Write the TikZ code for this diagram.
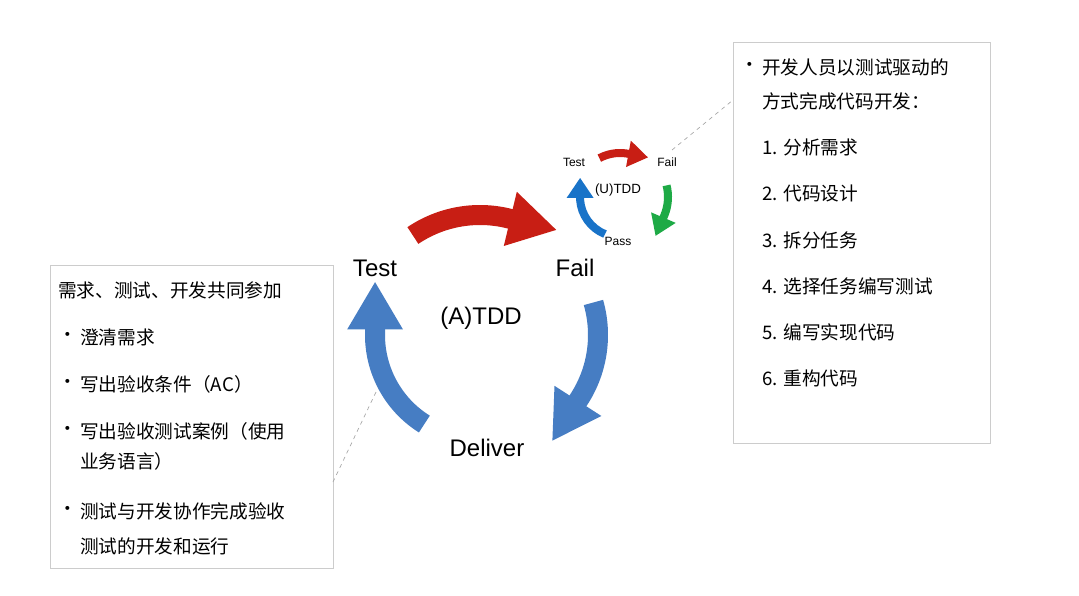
\documentclass[tikz,border=0pt]{standalone}
\usepackage{fontspec}
\setmainfont{Liberation Sans}
\newfontfamily\cjk{Noto Sans CJK SC}
\usetikzlibrary{arrows.meta}
\begin{document}
\begin{tikzpicture}[x=0.75pt,y=-0.75pt,
  big/.style={line width=15pt,-{Triangle[length=36pt,width=39pt]}},
  small/.style={line width=6pt,-{Triangle[length=15pt,width=19pt]}},
  lbl/.style={font=\fontsize{18pt}{20pt}\selectfont},
  slbl/.style={font=\fontsize{9pt}{10pt}\selectfont},
  box/.style={draw=black!20,line width=0.6pt},
  txt/.style={anchor=west,inner sep=0pt,font=\cjk\fontsize{14pt}{17pt}\selectfont},
  dots/.style={draw=black!35,dashed,line width=0.5pt}]
\useasboundingbox (0,0) rectangle (1079,596);
\fill[white] (0,0) rectangle (1079,596);
\definecolor{cred}{RGB}{200,30,20}
\definecolor{cblue}{RGB}{70,125,195}
\definecolor{sblue}{RGB}{25,115,200}
\definecolor{sgreen}{RGB}{30,170,70}
% big cycle, center (480,335)
\coordinate (C) at (480,335);
\draw[big,cred] ([shift={(-124:120)}]C) arc[start angle=-124,end angle=-77,radius=120] -- ++(50,12);
\draw[big,cblue] ([shift={(-16:118)}]C) arc[start angle=-16,end angle=33,radius=118] -- ++(-27,42);
\draw[big,cblue] ([shift={(122:105)}]C) arc[start angle=122,end angle=182,radius=105] -- ++(0,-50);
\node[lbl] (test) at (375,268) {Test};
\node[lbl] (fail) at (575,268) {Fail};
\node[lbl] (deliver) at (487,448) {Deliver};
\node[lbl] (atdd) at (481,318) {(A)TDD};
% small cycle, center (620,197)
\coordinate (c) at (620,197);
\draw[small,cred] ([shift={(-118:44)}]c) arc[start angle=-118,end angle=-82,radius=44] -- ++(22,4);
\draw[small,sgreen] ([shift={(-14:48)}]c) arc[start angle=-14,end angle=22,radius=48] -- ++(-9,21);
\draw[small,sblue] ([shift={(112:40)}]c) arc[start angle=112,end angle=176,radius=40] -- ++(0,-22);
\node[slbl] (stest) at (574,162) {Test};
\node[slbl] (sfail) at (667,162) {Fail};
\node[slbl] (spass) at (618,241) {Pass};
\node[font=\fontsize{10pt}{12pt}\selectfont] (utdd) at (618,190) {(U)TDD};
% boxes
\node[box,minimum width=212pt,minimum height=227pt,anchor=north west] (lbox) at (50,265) {};
\node[box,minimum width=193pt,minimum height=301pt,anchor=north west] (rbox) at (733,42) {};
\coordinate (ld) at (376,392);
\coordinate (rd) at (672,150);
\draw[dots] (ld) -- (333,482);
\draw[dots] (rd) -- (733,100);
% left text
\node[txt] at (58,290) {需求、测试、开发共同参加};
\foreach \y/\t in {337/澄清需求,384/写出验收条件（AC）,431/写出验收测试案例（使用,511/测试与开发协作完成验收}
  {\node[txt] at (58,\y) {•}; \node[txt] at (80,\y) {\t};}
\node[txt] at (80,461) {业务语言）};
\node[txt] at (80,546) {测试的开发和运行};
% right text
\node[txt] at (740,67) {•};
\node[txt] at (762,67) {开发人员以测试驱动的};
\node[txt] at (762,101) {方式完成代码开发：};
\foreach \y/\t in {147/1. 分析需求,193/2. 代码设计,240/3. 拆分任务,286/4. 选择任务编写测试,332/5. 编写实现代码,378/6. 重构代码}
  {\node[txt] at (762,\y) {\t};}
\end{tikzpicture}
\end{document}
